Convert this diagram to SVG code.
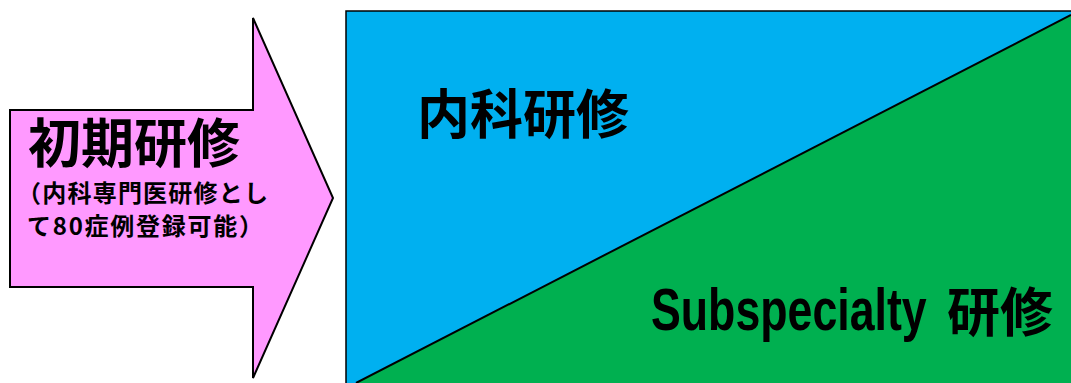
<svg xmlns="http://www.w3.org/2000/svg" width="1071" height="383" viewBox="0 0 1071 383">
<style>
.jp{font-family:"Noto Sans CJK JP","Noto Sans CJK SC",sans-serif;font-weight:bold;fill:#000}
.big{font-size:53px}
.small{font-size:24px}
.lat{font-family:"Liberation Sans",sans-serif;font-size:60px;font-weight:bold;fill:#000}
</style>
<rect width="1071" height="383" fill="#ffffff"/>
<g id="arrow">
<polygon points="10,110 253,110 253,18 333,198 253,378 253,287 10,287" fill="#FF99FF" stroke="#000" stroke-width="2"/>
<text class="jp big" x="28" y="163">初期研修</text>
<text class="jp small" x="17" y="202" textLength="251" lengthAdjust="spacing">（内科専門医研修とし</text>
<text class="jp small" x="27" y="235" textLength="236" lengthAdjust="spacing">て80症例登録可能）</text>
</g>
<g id="panel">
<rect x="346" y="11" width="740" height="390" fill="#00B0F0" stroke="#000" stroke-width="1.5"/>
<polygon points="1071,15 1071,383 356,383" fill="#00B050"/>
<line x1="1071" y1="15" x2="356" y2="383" stroke="#000" stroke-width="2"/>
<text class="jp big" x="417" y="134">内科研修</text>
<text class="lat" transform="translate(651,330) scale(0.745,1)">Subspecialty</text>
<text class="jp big" x="947" y="332">研修</text>
</g>
</svg>
